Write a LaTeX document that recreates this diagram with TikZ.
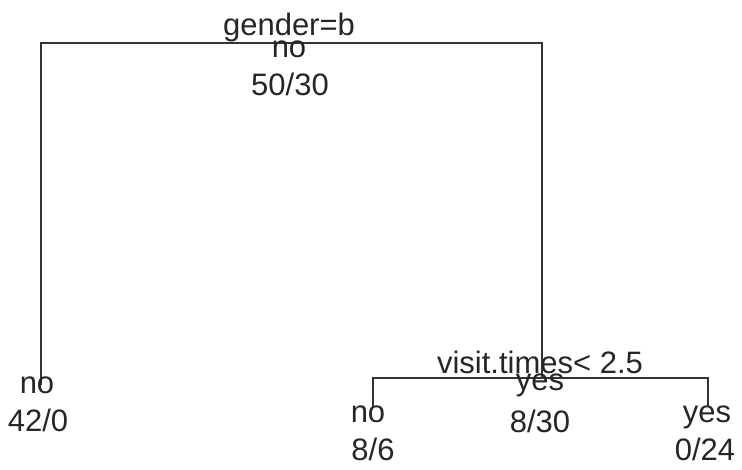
\documentclass[tikz,border=0pt]{standalone}
\usepackage{fontspec}
\setmainfont{Liberation Sans}
\begin{document}
\begin{tikzpicture}[x=1pt,y=-1pt,
  lbl/.style={inner sep=0pt,anchor=base,font=\fontsize{31}{31}\selectfont,text=black!85},
  edge/.style={line width=2pt,draw=black!80}]
\useasboundingbox (0,0) rectangle (742,469);
% coordinates of tree corners
\coordinate (rootL) at (41,43);
\coordinate (rootR) at (542,43);
\coordinate (leafA) at (41,385);
\coordinate (splitB) at (542,378);
\coordinate (bL) at (373,378);
\coordinate (bR) at (708,378);
\coordinate (leafC) at (373,407);
\coordinate (leafD) at (708,407);
% connectors
\draw[edge] (leafA) -- (rootL) -- (rootR) -- (splitB);
\draw[edge] (leafC) -- (bL) -- (bR) -- (leafD);
% texts
\node[lbl] (t1) at (289,35) {gender=b};
\node[lbl] (t2) at (289,57) {no};
\node[lbl] (t3) at (290,95) {50/30};
\node[lbl] (t4) at (37,393) {no};
\node[lbl] (t5) at (38,431) {42/0};
\node[lbl] (t6) at (540,373) {visit.times< 2.5};
\node[lbl] (t7) at (540,390) {yes};
\node[lbl] (t8) at (540,432) {8/30};
\node[lbl] (t9) at (368,422) {no};
\node[lbl] (t10) at (373,460) {8/6};
\node[lbl] (t11) at (707,422) {yes};
\node[lbl] (t12) at (705,460) {0/24};
\end{tikzpicture}
\end{document}
